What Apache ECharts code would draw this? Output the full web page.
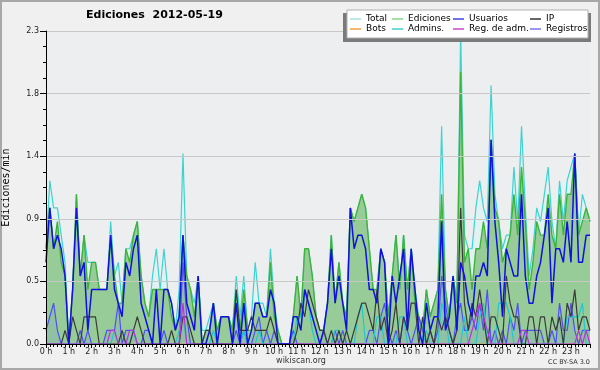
<!DOCTYPE html>
<html><head><meta charset="utf-8">
<script src="https://cdn.jsdelivr.net/npm/echarts@6/dist/echarts.min.js"></script>
<style>html,body{margin:0;padding:0;background:#f0f0f0}#c{width:600px;height:370px}</style>
</head><body><div id="c"></div>
<script>
// tick labels (one per hour, 6 points of 10 min per hour)
const hourLabels = ['0 h','1 h','2 h','3 h','4 h','5 h','6 h','7 h','8 h','9 h','10 h','11 h',
  '12 h','13 h','14 h','15 h','16 h','17 h','18 h','19 h','20 h','21 h','22 h','23 h'];

// values in ediciones/min, every 10 minutes (6 per row = 1 hour)
const total = [
  0.7,1.2,1.0,1.0,0.8,0.6, 0,0.4,1.1,0.5,0.8,0.6, 0.6,0.6,0.4,0.4,0.4,0.9, 0.5,0.6,0.3,0.7,0.7,0.8,
  0.9,0.5,0.3,0.2,0.5,0.7, 0.4,0.7,0.4,0.3,0.1,0.4, 1.4,0.5,0.4,0.3,0.5,0.1, 0.1,0.2,0.3,0.1,0.2,0.2,
  0.2,0.1,0.5,0.2,0.5,0.1, 0.2,0.6,0.3,0.3,0.2,0.7, 0.3,0.1,0,0,0,0.2, 0.5,0.2,0.7,0.7,0.5,0.2,
  0.1,0.1,0.3,0.8,0.3,0.6, 0.3,0.2,1.0,0.9,1.0,1.1, 1.0,0.7,0.4,0.4,0.7,0.6, 0.2,0.5,0.8,0.4,0.8,0.4,
  0.7,0.4,0.2,0.1,0.4,0.2, 0.3,0.4,1.6,0.4,0.2,0.5, 0.3,2.3,0.8,0.7,0.7,1.0, 1.2,1.0,0.9,1.9,1.1,0.9,
  0.7,0.8,0.8,1.3,0.9,1.6, 1.0,0.5,0.7,1.0,0.9,1.1, 1.3,0.9,0.7,1.2,0.9,1.2, 1.3,1.4,0.8,1.1,1.0,0.9
];
const ediciones = [
  0.7,1.0,0.7,0.9,0.6,0.5, 0,0.4,1.1,0.5,0.8,0.4, 0.6,0.6,0.4,0.4,0.4,0.8, 0.5,0.3,0.3,0.7,0.6,0.8,
  0.9,0.5,0.3,0.2,0.4,0.4, 0.4,0.4,0.4,0.2,0.1,0.2, 0.8,0.5,0.4,0.2,0.5,0, 0.1,0.1,0.3,0.1,0.2,0.2,
  0.2,0.1,0.4,0.1,0.4,0.1, 0.1,0.3,0.3,0.2,0.2,0.6, 0.2,0.1,0,0,0,0.2, 0.5,0.2,0.7,0.7,0.5,0.2,
  0.1,0.1,0.3,0.8,0.3,0.6, 0.3,0.2,1.0,0.9,1.0,1.1, 1.0,0.7,0.4,0.4,0.7,0.6, 0.2,0.5,0.8,0.4,0.8,0.4,
  0.7,0.3,0.2,0.1,0.4,0.2, 0.3,0.4,1.1,0.4,0.2,0.5, 0.3,2.0,0.6,0.7,0.4,0.7, 0.7,0.9,0.7,1.5,1.0,0.9,
  0.6,0.7,0.8,1.1,0.8,1.3, 0.9,0.4,0.6,0.9,0.8,0.8, 1.1,0.8,0.7,1.1,0.8,1.1, 1.1,1.4,0.8,0.9,1.0,0.9
];
const usuarios = [
  0.6,1.0,0.7,0.8,0.7,0.5, 0,0.4,1.0,0.5,0.6,0.1, 0.4,0.4,0.4,0.4,0.4,0.8, 0.4,0.3,0.2,0.6,0.5,0.7,
  0.8,0.3,0.2,0.1,0,0.4, 0,0.4,0.4,0.3,0.1,0.2, 0.8,0.3,0.2,0.1,0.5,0, 0,0.1,0.3,0,0.2,0.2,
  0.2,0,0.3,0,0.3,0, 0.1,0.3,0.3,0.2,0.2,0.4, 0.3,0,0,0,0,0.2, 0.2,0.1,0.4,0.3,0.2,0.1,
  0,0.1,0.3,0.7,0.3,0.5, 0.3,0.1,1.0,0.7,0.8,0.8, 0.7,0.4,0.4,0.3,0.7,0.6, 0,0.5,0.3,0.5,0.7,0.1,
  0.7,0.4,0.1,0,0.3,0.1, 0.2,0.2,0.9,0.1,0.2,0.5, 0.1,0.6,0.5,0.3,0.2,0.5, 0.5,0.6,0.5,1.5,0.9,0.6,
  0.2,0.7,0.6,0.5,0.5,1.1, 0.5,0.3,0.3,0.5,0.6,0.8, 1.0,0.3,0.7,0.7,0.6,0.9, 0.6,1.4,0.6,0.6,0.8,0.8
];
const ip = [
  0,0,0,0,0,0.1, 0,0.2,0.1,0,0.2,0.2, 0.2,0.2,0,0,0,0, 0,0,0.1,0,0,0.1,
  0.2,0.1,0,0,0,0, 0,0,0,0.1,0,0, 0.2,0.2,0.1,0,0,0, 0.1,0.1,0,0,0,0,
  0,0,0.4,0.1,0.1,0.1, 0.2,0.1,0.1,0.1,0.1,0.2, 0.1,0,0,0,0,0, 0.1,0.3,0.2,0.4,0.3,0.2,
  0.1,0.1,0,0.1,0,0.1, 0,0.1,0,0.1,0.2,0.3, 0.3,0.2,0.1,0.4,0.1,0.2, 0,0.1,0.3,0,0.2,0.1,
  0.3,0.3,0,0.2,0,0.1, 0,0.2,0.1,0.2,0.1,0, 0.1,1.0,0.3,0.1,0.3,0.2, 0.4,0.2,0,0.2,0.2,0.1,
  0,0.5,0.3,0.2,0.2,0, 0,0.2,0.2,0,0.2,0.2, 0,0.2,0.1,0.2,0,0.3, 0.2,0.4,0.1,0.2,0.2,0.1
];
const bots = new Array(144).fill(0);
const admins = [
  0,0,0,0,0,0, 0,0,0,0,0,0, 0,0,0,0,0,0, 0.1,0,0,0,0,0.1,
  0,0,0,0,0,0, 0,0,0,0,0,0.1, 0.2,0,0,0,0,0, 0,0,0.1,0,0,0,
  0,0,0,0,0.1,0, 0,0,0.1,0,0,0, 0,0,0,0,0,0, 0.2,0.2,0.4,0.3,0.1,0,
  0,0,0,0,0.1,0.1, 0,0,0,0,0.2,0.3, 0,0,0,0.2,0.2,0, 0,0,0,0.2,0.2,0,
  0,0,0,0,0.1,0, 0,0,0.3,0.2,0,0, 0,0,0.2,0,0,0, 0.2,0.3,0,0,0,0.3,
  0.3,0.3,0.2,0,0,0, 0,0,0,0,0,0, 0,0,0,0,0,0.2, 0.2,0.2,0.2,0.3,0,0
];
const regAdm = [
  0,0,0,0,0,0, 0,0,0,0,0,0, 0,0,0,0,0,0.1, 0.1,0,0,0,0.1,0.1,
  0,0,0,0,0,0, 0,0,0,0,0,0, 0.3,0,0,0,0,0, 0,0,0,0,0,0,
  0,0,0,0,0,0, 0,0,0,0,0,0, 0,0,0,0,0,0, 0,0,0,0,0,0,
  0,0,0,0,0,0, 0,0,0,0,0,0, 0,0,0,0,0,0, 0,0,0,0,0,0,
  0,0,0,0,0,0, 0,0,0,0,0,0, 0,0,0,0,0.1,0.2, 0.3,0.2,0.1,0,0,0,
  0,0,0,0,0,0.1, 0.1,0,0,0,0,0, 0,0,0,0,0,0, 0,0,0.1,0,0.1,0
];
const registros = [
  0.1,0.2,0.3,0.1,0,0, 0,0,0,0.1,0,0.1, 0,0,0,0,0.1,0.1, 0.1,0.3,0,0.1,0.1,0.1,
  0,0,0.1,0.1,0,0, 0,0.1,0,0,0,0, 0.6,0.2,0,0,0,0, 0,0,0,0,0,0,
  0,0,0.1,0,0.1,0, 0,0.1,0.2,0,0.1,0, 0.1,0,0,0,0,0.1, 0,0,0,0,0,0,
  0,0.1,0,0,0.1,0, 0.1,0,0,0,0,0, 0,0.1,0.1,0,0.2,0.3, 0.1,0,0.1,0,0.2,0.1,
  0,0.1,0.2,0.1,0,0.1, 0,0.1,0.5,0.3,0.1,0, 0.2,0.3,0.1,0.1,0.2,0.1, 0.3,0.1,0.4,0,0.1,0,
  0.1,0,0.2,0.1,0.3,0, 0.1,0.1,0.1,0.1,0.1,0, 0,0.1,0,0.3,0.1,0.1, 0.3,0.1,0,0.1,0.1,0.1
];

const pts = arr => arr.map((v, i) => [i, v]);
const FONT = 'DejaVu Sans';

function lineSeries(name, data, color, width, z, area) {
  const s = {
    name, type: 'line', data: pts(data), symbol: 'none', z,
    lineStyle: { color, width }, itemStyle: { color },
    emphasis: { disabled: true }, silent: true
  };
  if (area) s.areaStyle = area;
  return s;
}

const chart = echarts.init(document.getElementById('c'), null, { renderer: 'canvas' });
const legendText = { fontFamily: FONT, fontSize: 9, color: '#000', lineHeight: 10 };
function legendCol(left, a, b) {
  return {
    orient: 'vertical', left, top: 14, itemWidth: 11, itemHeight: 1.5, itemGap: 0,
    icon: 'rect', padding: 0, selectedMode: false, z: 20,
    textStyle: legendText,
    data: [{ name: a[0], itemStyle: { color: a[1] } }, { name: b[0], itemStyle: { color: b[1] } }]
  };
}

chart.setOption({
  animation: false,
  backgroundColor: '#f0f0f0',
  title: {
    text: 'Ediciones  2012-05-19', left: 86, top: 10, padding: 0,
    textStyle: { fontFamily: FONT, fontSize: 11, fontWeight: 'bold', color: '#000' }
  },
  grid: { left: 46, right: 10, top: 31, bottom: 26, show: true, backgroundColor: '#edeef0', borderWidth: 0,
    containLabel: false, outerBoundsMode: 'none' },
  legend: [
    legendCol(350, ['Total', '#a8e2e2'], ['Bots', '#f0a040']),
    legendCol(392, ['Ediciones', '#88d488'], ['Admins.', '#44cccc']),
    legendCol(453, ['Usuarios', '#4444dd'], ['Reg. de adm.', '#cc44cc']),
    legendCol(530, ['IP', '#333333'], ['Registros', '#7777ee'])
  ],
  xAxis: {
    type: 'value', min: 0, max: 143, interval: 6, z: 10,
    axisLine: { show: true, onZero: false, lineStyle: { color: '#000', width: 1 } },
    axisTick: { show: true, length: 4, lineStyle: { color: '#000' } },
    minorTick: { show: true, splitNumber: 6, length: 3, lineStyle: { color: '#000' } },
    axisLabel: { formatter: v => hourLabels[Math.round(v / 6)] || '', fontFamily: FONT, fontSize: 8, color: '#222', margin: 4 },
    splitLine: { show: false }
  },
  yAxis: {
    type: 'value', min: 0, max: 2.3, interval: 0.46, z: 10,
    axisLine: { show: true, lineStyle: { color: '#000', width: 1 } },
    axisTick: { show: true, length: 6, lineStyle: { color: '#000' } },
    minorTick: { show: true, splitNumber: 4, length: 3, lineStyle: { color: '#000' } },
    axisLabel: { formatter: v => v.toFixed(1), fontFamily: FONT, fontSize: 8, color: '#222', margin: 7 },
    splitLine: { show: true, lineStyle: { color: '#c8c8c8', width: 1 } },
    name: 'Ediciones/min', nameLocation: 'middle', nameGap: 35,
    nameTextStyle: { fontFamily: 'DejaVu Sans Mono', fontSize: 10, color: '#000' }
  },
  series: [
    lineSeries('Total', total, '#3ed2d2', 1.2, 2, { color: '#e2f2f2', opacity: 1 }),
    lineSeries('Ediciones', ediciones, '#3cb43c', 1.4, 3, { color: '#97cb97', opacity: 1 }),
    lineSeries('Bots', bots, '#f0a040', 1, 4),
    lineSeries('Registros', registros, '#5050f0', 1.2, 5, { color: 'rgba(120,140,240,0.22)' }),
    lineSeries('Admins.', admins, '#22c8d0', 1.2, 6),
    lineSeries('IP', ip, '#3a3a3a', 1.2, 7),
    lineSeries('Reg. de adm.', regAdm, '#c030d8', 1.2, 8),
    lineSeries('Usuarios', usuarios, '#1010e0', 1.5, 9)
  ],
  graphic: [
    { type: 'rect', z: 1, silent: true, shape: { x: 1, y: 1, width: 598, height: 368 },
      style: { fill: 'none', stroke: '#a8a8a8', lineWidth: 2 } },
    { type: 'rect', z: 15, silent: true, shape: { x: 343, y: 13, width: 248, height: 29 }, style: { fill: '#7a7a7a' } },
    { type: 'rect', z: 16, silent: true, shape: { x: 347, y: 10, width: 241, height: 28 },
      style: { fill: '#ffffff', stroke: '#b0b0b0', lineWidth: 1 } },
    { type: 'text', z: 20, silent: true, x: 301, y: 361,
      style: { text: 'wikiscan.org', fontFamily: FONT, fontSize: 8, fill: '#333', align: 'center', verticalAlign: 'middle' } },
    { type: 'text', z: 20, silent: true, x: 590, y: 362,
      style: { text: 'CC BY-SA 3.0', fontFamily: FONT, fontSize: 6.5, fill: '#333', align: 'right', verticalAlign: 'middle' } }
  ]
});
</script>
</body></html>
